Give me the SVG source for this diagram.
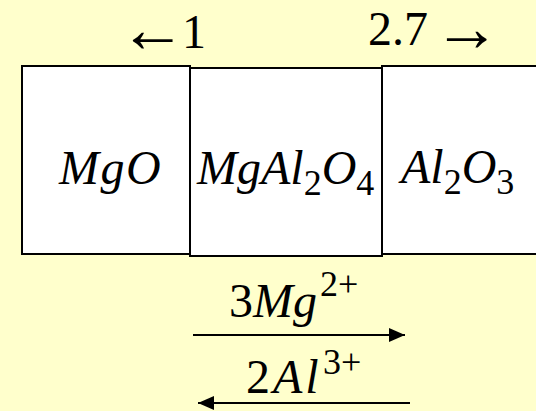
<svg xmlns="http://www.w3.org/2000/svg" width="536" height="411" viewBox="0 0 536 411">
<style>
.box{fill:#ffffff;stroke:#000000;stroke-width:2}
.t{font-family:"Liberation Serif","Times New Roman",serif;fill:#000000;font-size:48px}
.i{font-style:italic}
.s{font-size:36px;font-style:normal}
.ar{font-size:67px}
.c{stroke:#000000;stroke-width:2;fill:none}
</style>
<defs>
<marker id="ah" viewBox="0 0 16 14" refX="16" refY="7" markerWidth="16" markerHeight="14" markerUnits="userSpaceOnUse" orient="auto">
<path d="M0,0 L16,7 L0,14 Z" fill="#000000"/>
</marker>
</defs>
<rect x="0" y="0" width="536" height="411" fill="#ffffcc"/>
<g id="label-left">
<text class="t" x="119" y="52"><tspan class="ar">←</tspan><tspan y="48" dx="-4">1</tspan></text>
</g>
<g id="label-right">
<text class="t" x="368" y="45">2.7<tspan class="ar" y="51" dx="5">→</tspan></text>
</g>
<g id="mgo">
<rect class="box" x="22" y="66" width="168" height="188"/>
<text class="t i" x="59" y="184" letter-spacing="1.5">MgO</text>
</g>
<g id="spinel">
<rect class="box" x="190" y="68" width="192" height="188"/>
<text class="t i" x="197" y="184">MgAl<tspan class="s" dy="11">2</tspan><tspan dy="-11">O</tspan><tspan class="s" dy="11">4</tspan></text>
</g>
<g id="al2o3">
<rect class="box" x="382" y="66" width="160" height="188"/>
<text class="t i" x="401" y="183">Al<tspan class="s" dy="11">2</tspan><tspan dy="-11">O</tspan><tspan class="s" dy="11">3</tspan></text>
</g>
<g id="connectors">
<line class="c" x1="193" y1="335" x2="405" y2="335" marker-end="url(#ah)"/>
<line class="c" x1="410" y1="403" x2="198" y2="403" marker-end="url(#ah)"/>
</g>
<g id="label-mg">
<text class="t" x="229" y="317">3<tspan class="i">Mg</tspan><tspan class="s" x="320" y="296">2+</tspan></text>
</g>
<g id="label-al">
<text class="t" x="246" y="393" letter-spacing="3">2<tspan class="i">Al</tspan><tspan class="s" x="323" y="374" letter-spacing="0">3+</tspan></text>
</g>
</svg>
